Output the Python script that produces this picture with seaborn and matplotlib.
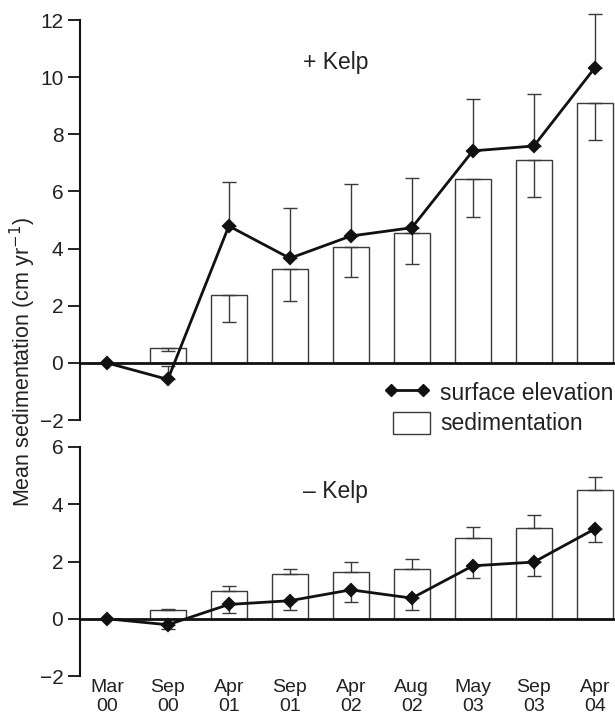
import matplotlib
matplotlib.use("Agg")
import matplotlib.pyplot as plt
import seaborn as sns
import numpy as np
from matplotlib.lines import Line2D
from matplotlib.patches import Patch, Rectangle
from matplotlib.legend_handler import HandlerPatch

# ---- data ----
dates = ["Mar\n00", "Sep\n00", "Apr\n01", "Sep\n01", "Apr\n02", "Aug\n02", "May\n03", "Sep\n03", "Apr\n04"]

# + Kelp panel
plus_sed = [0.0, 0.52, 2.36, 3.27, 4.04, 4.53, 6.43, 7.10, 9.10]
plus_sed_err = [0.0, 0.10, 0.92, 1.10, 1.03, 1.07, 1.32, 1.29, 1.30]   # drawn downward
plus_elev = [0.0, -0.58, 4.79, 3.66, 4.44, 4.73, 7.42, 7.59, 10.33]
plus_elev_err = [0.0, 0.46, 1.55, 1.77, 1.81, 1.73, 1.80, 1.82, 1.87]  # drawn upward

# - Kelp panel
minus_sed = [0.0, 0.31, 0.96, 1.56, 1.64, 1.75, 2.81, 3.17, 4.50]
minus_sed_err = [0.0, 0.03, 0.19, 0.19, 0.34, 0.33, 0.38, 0.46, 0.44]  # drawn upward
minus_elev = [0.0, -0.21, 0.50, 0.63, 1.01, 0.72, 1.85, 1.98, 3.14]
minus_elev_err = [0.0, 0.16, 0.30, 0.34, 0.41, 0.43, 0.44, 0.48, 0.47]  # drawn downward

top_yticks = [-2, 0, 2, 4, 6, 8, 10, 12]
bot_yticks = [-2, 0, 2, 4, 6]

sns.set_style("ticks")
plt.rcParams["font.family"] = ["Liberation Sans", "DejaVu Sans"]
plt.rcParams["font.size"] = 15

W, H = 615, 721
fig = plt.figure(figsize=(W / 100, H / 100), dpi=100)
left = 80 / W
width = 535 / W
ax1 = fig.add_axes([left, 1 - 420 / H, width, 400 / H])
ax2 = fig.add_axes([left, 1 - 676 / H, width, 229 / H], sharex=ax1)

edge = "#3a3a3a"
txtc = "#222222"


def draw_panel(ax, sed, sed_err, elev, elev_err, sed_dir, elev_dir):
    sns.barplot(x=dates, y=sed, ax=ax, color="white", edgecolor=edge,
                linewidth=1.0, width=0.6, errorbar=None, saturation=1)
    x = np.arange(len(dates))
    z = np.zeros(len(dates))
    se = np.array(sed_err)
    ee = np.array(elev_err)
    sy = [se, z] if sed_dir == "down" else [z, se]
    ey = [ee, z] if elev_dir == "down" else [z, ee]
    mask = x > 0
    for yy, yerr in ((np.array(sed), sy), (np.array(elev), ey)):
        eb = ax.errorbar(x[mask], yy[mask], yerr=[yerr[0][mask], yerr[1][mask]], fmt="none",
                         ecolor=edge, elinewidth=1.0, capsize=5, capthick=1.0, zorder=3)
        for art in eb.get_children():
            art.set_clip_on(False)
    ax.axhline(0, color="#111111", lw=2.0, zorder=2)
    sns.pointplot(x=dates, y=elev, ax=ax, color="#111111", marker="D",
                  markersize=6, linewidth=2.0, errorbar=None, zorder=4)
    for s in ["top", "right", "bottom"]:
        ax.spines[s].set_visible(False)
    ax.spines["left"].set_linewidth(1.5)
    ax.spines["left"].set_color("#111111")
    ax.tick_params(axis="y", length=9, width=1.3, color="#111111", labelsize=15,
                   labelcolor=txtc, pad=3)
    ax.tick_params(axis="x", length=0, labelsize=14, labelcolor=txtc, pad=2)
    ax.set_ylabel("")
    ax.set_xlabel("")


draw_panel(ax1, plus_sed, plus_sed_err, plus_elev, plus_elev_err, "down", "up")
draw_panel(ax2, minus_sed, minus_sed_err, minus_elev, minus_elev_err, "up", "down")

ax1.set_ylim(-2, 12)
ax1.set_yticks(top_yticks)
ax1.set_yticklabels(["\u22122" if t < 0 else str(t) for t in top_yticks])
ax2.set_ylim(-2, 6)
ax2.set_yticks(bot_yticks)
ax2.set_yticklabels(["\u22122" if t < 0 else str(t) for t in bot_yticks])
ax1.set_xlim(-0.44, 8.33)
ax2.set_xticks(range(len(dates)))
ax2.set_xticklabels(dates, linespacing=1.2)
plt.setp(ax1.get_xticklabels(), visible=False)

ax1.text(3.22, 10.5, "+ Kelp", fontsize=16.5, color=txtc, va="center", ha="left")
ax2.text(3.22, 4.46, "\u2013 Kelp", fontsize=16.5, color=txtc, va="center", ha="left")

fig.text(0.037, 1 - 362 / H, "Mean sedimentation (cm yr$^{-1}$)", rotation=90,
         ha="center", va="center", fontsize=15.5, color=txtc)


def narrow_rect(legend, orig_handle, xdescent, ydescent, width, height, fontsize):
    w = width * 0.8
    return Rectangle((-xdescent + width - w, -ydescent), w, height)


handles = [
    Line2D([0], [0], color="#111111", lw=2, marker="D", markersize=6),
    Patch(facecolor="white", edgecolor=edge, linewidth=1.0),
]
fig.legend(handles, ["surface elevation", "sedimentation"], loc="upper left",
           bbox_to_anchor=(384 / W, 1 - 381 / H), frameon=False, fontsize=16.5,
           borderpad=0, borderaxespad=0, handlelength=2.0, handleheight=1.1,
           handletextpad=0.45, labelspacing=0.3, numpoints=2, labelcolor=txtc,
           handler_map={Patch: HandlerPatch(patch_func=narrow_rect)})

fig.savefig("out.png", dpi=100)
